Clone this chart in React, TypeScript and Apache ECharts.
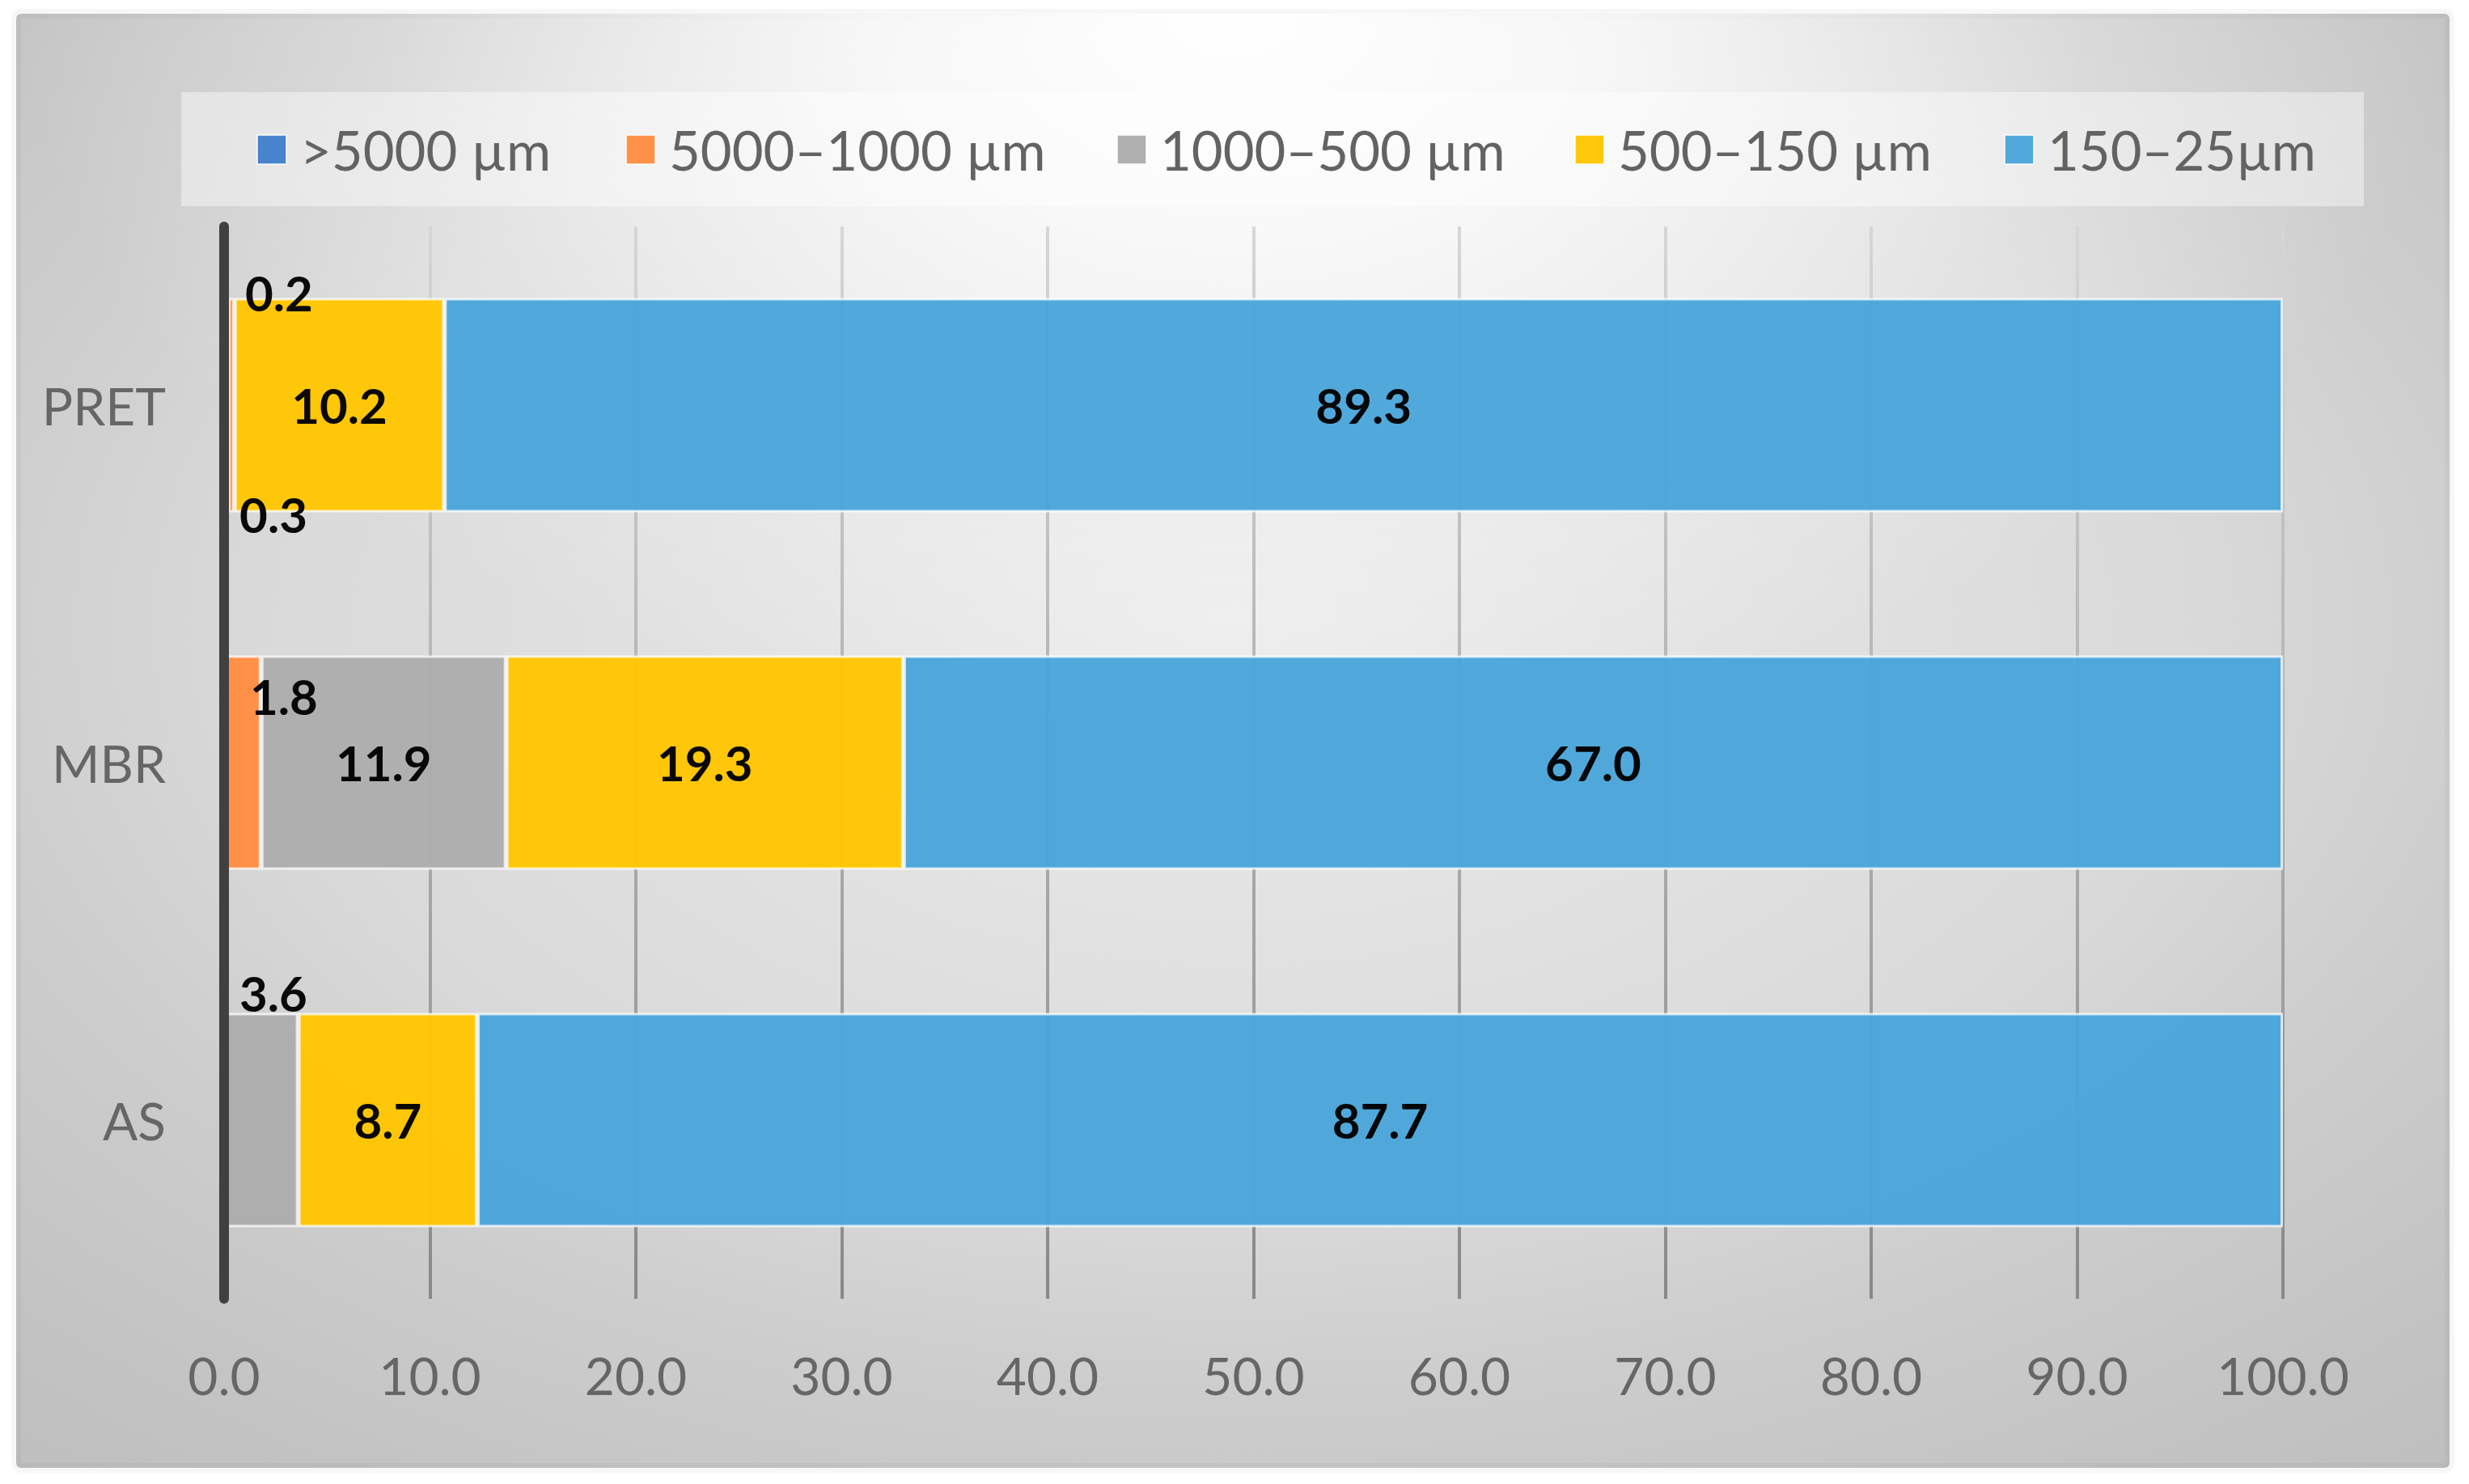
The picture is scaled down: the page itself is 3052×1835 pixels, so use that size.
import React, { useEffect, useRef } from "react";
import * as echarts from "echarts";

// ---- data ----
const categories = ["AS", "MBR", "PRET"];
const seriesNames = [">5000 µm", "5000–1000 µm", "1000–500 µm", "500–150 µm", "150–25µm"];
const over5000 = [0, 0, 0.2];
const from5000to1000 = [0, 1.8, 0.3];
const from1000to500 = [3.6, 11.9, 0];
const from500to150 = [8.7, 19.3, 10.2];
const from150to25 = [87.7, 67.0, 89.3];
const xTickMin = 0;
const xTickMax = 100;
const xTickStep = 10;

// ---- styling ----
const seriesValues = [over5000, from5000to1000, from1000to500, from500to150, from150to25];
const colors = ["#4280CC", "#FF8C42", "#ADADAD", "#FFC600", "#4AA5DA"];
const legendLeft = [317, 773, 1380, 1946, 2477];
const FONT = 'Lato, "Open Sans", "Noto Sans", sans-serif';

// label placements for segments too small to hold their label (seriesIndex-categoryIndex)
const smallLabels: Record<string, { position: any; offset: number[] }> = {
  "0-2": { position: ["0%", "0%"], offset: [26, -6] },
  "1-2": { position: ["0%", "100%"], offset: [14, 2] },
  "1-1": { position: ["0%", "0%"], offset: [32, 51] },
  "2-0": { position: ["0%", "0%"], offset: [19, -24] },
};

export default function App() {
  const ref = useRef<HTMLDivElement>(null);
  useEffect(() => {
    if (!ref.current) return;
    const chart = echarts.init(ref.current, null, { renderer: "svg" });

    const series = seriesNames.map((name, si) => ({
      name,
      type: "bar",
      stack: "total",
      barCategoryGap: "40%",
      itemStyle: {
        color: colors[si],
        opacity: 0.96,
        borderColor: "rgba(255,255,255,0.75)",
        borderWidth: 3,
      },
      label: {
        show: true,
        position: "inside",
        color: "#000",
        fontFamily: FONT,
        fontWeight: "bold",
        fontSize: 60,
        formatter: (p: any) => Number(p.value).toFixed(1),
      },
      emphasis: { disabled: true },
      data: seriesValues[si].map((v, ci) => {
        if (v === 0) return "-";
        const key = `${si}-${ci}`;
        const sl = smallLabels[key];
        if (sl) {
          return {
            value: v,
            label: {
              position: sl.position,
              offset: sl.offset,
              align: "left",
              verticalAlign: "middle",
            },
          };
        }
        return v;
      }),
    }));

    const legends = seriesNames.map((n, i) => ({
      data: [n],
      left: legendLeft[i],
      top: 149,
      padding: 0,
      icon: "rect",
      itemWidth: 36,
      itemHeight: 36,
      selectedMode: false,
      textStyle: {
        fontFamily: FONT,
        fontSize: 67,
        color: "#636363",
        lineHeight: 72,
        padding: [0, 0, 0, 12],
      },
    }));

    const option: any = {
      animation: false,
      backgroundColor: "#ffffff",
      graphic: [
        {
          type: "rect",
          z: -20,
          silent: true,
          shape: { x: 20, y: 17, width: 3008, height: 1798, r: 6 },
          style: {
            fill: new echarts.graphic.RadialGradient(0.5, 0.42, 0.8, [
              { offset: 0, color: "#ececec" },
              { offset: 0.5, color: "#d9d9d9" },
              { offset: 0.66, color: "#cdcdcd" },
              { offset: 0.85, color: "#c3c3c3" },
              { offset: 1, color: "#bdbdbd" },
            ]),
            stroke: "rgba(0,0,0,0.03)",
            lineWidth: 12,
          },
        },
        {
          type: "rect",
          z: -19,
          silent: true,
          shape: { x: 20, y: 17, width: 3008, height: 1798 },
          style: {
            fill: new echarts.graphic.RadialGradient(0.5, 0.0, 0.5, [
              { offset: 0, color: "rgba(255,255,255,1)" },
              { offset: 0.3, color: "rgba(255,255,255,0.8)" },
              { offset: 0.7, color: "rgba(255,255,255,0.25)" },
              { offset: 1, color: "rgba(255,255,255,0)" },
            ]),
          },
        },
        {
          type: "rect",
          z: -18,
          silent: true,
          shape: { x: 224, y: 114, width: 2698, height: 141 },
          style: { fill: "rgba(255,255,255,0.42)" },
        },
      ],
      legend: legends,
      grid: {
        left: 277,
        right: 230,
        top: 280,
        bottom: 229,
        containLabel: false,
        outerBoundsMode: "none",
      },
      xAxis: {
        type: "value",
        min: xTickMin,
        max: xTickMax,
        interval: xTickStep,
        axisLine: { show: false },
        axisTick: { show: false },
        axisLabel: {
          fontFamily: FONT,
          fontSize: 64,
          color: "#666666",
          margin: 62,
          formatter: (v: number) => v.toFixed(1),
        },
        splitLine: {
          show: true,
          lineStyle: {
            width: 4,
            color: new echarts.graphic.LinearGradient(
              0,
              280,
              0,
              1606,
              [
                { offset: 0, color: "#d6d6d6" },
                { offset: 0.5, color: "#b0b0b0" },
                { offset: 1, color: "#888888" },
              ],
              true
            ),
          },
        },
      },
      yAxis: {
        type: "category",
        data: categories,
        z: 5,
        axisLine: { show: true, lineStyle: { color: "#404040", width: 12 } },
        axisTick: { show: false },
        splitLine: { show: false },
        axisLabel: {
          fontFamily: FONT,
          fontSize: 64,
          color: "#666666",
          margin: 72,
        },
      },
      series,
    };

    chart.setOption(option);
    return () => chart.dispose();
  }, []);

  return (
    <div
      ref={ref}
      style={{ position: "fixed", left: 0, top: 0, width: 3052, height: 1835 }}
    />
  );
}
